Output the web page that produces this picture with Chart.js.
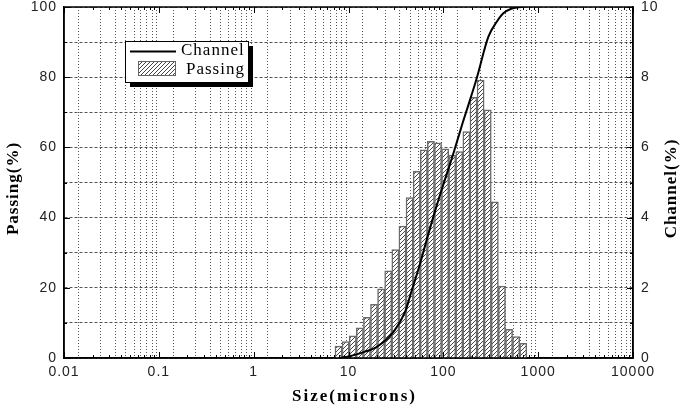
<!DOCTYPE html>
<html>
<head>
<meta charset="utf-8">
<script src="https://cdn.jsdelivr.net/npm/chart.js@4.4.1/dist/chart.umd.min.js"></script>
<style>
body { margin:0; background:#fff; }
#wrap { width:685px; height:409px; }
</style>
</head>
<body>
<div id="wrap"><canvas id="myChart" width="685" height="409"></canvas></div>
<script>
// data
var binSizes = [7.85, 9.33, 11.09, 13.18, 15.66, 18.58, 22.08, 26.24, 31.19, 37.07, 44.06, 52.36, 62.23, 73.96,
	87.90, 104.5, 124.2, 147.2, 175.0, 208.0, 247.2, 293.8, 349.1, 414.9, 493.2, 586.1, 696.6];
var channelValues = [0.34, 0.47, 0.63, 0.86, 1.16, 1.53, 1.97, 2.48, 3.09, 3.76, 4.57, 5.32, 5.93, 6.17,
	6.13, 5.96, 5.78, 5.88, 6.45, 7.43, 7.92, 7.07, 4.45, 2.05, 0.82, 0.61, 0.42];
var curveSizes = [8.1, 10, 15, 20, 30, 40, 45, 57, 67, 80, 101.6, 125, 160, 225, 298, 366, 429, 520, 617, 700];
var passingValues = [0, 0.4, 1.8, 3.2, 7.5, 13.5, 18, 27, 33.8, 41, 50, 57.5, 67, 79.7, 91.5, 95.8, 98.2, 99.5, 99.9, 100];
var decades = [0.01, 0.1, 1, 10, 100, 1000, 10000];
var decadeLabels = ["0.01", "0.1", "1", "10", "100", "1000", "10000"];
var minorSteps = [2, 3, 4, 5, 6, 7, 8, 9];

var xTicks = [];
decades.forEach(function(d, i){
	xTicks.push({value: d, major: true, label: decadeLabels[i]});
	if (i < decades.length - 1) {
		minorSteps.forEach(function(m){ xTicks.push({value: d * m, major: false, label: ''}); });
	}
});

// hatch
var pc = document.createElement('canvas');
pc.width = 4; pc.height = 4;
var p = pc.getContext('2d');
p.fillStyle = '#fff'; p.fillRect(0, 0, 4, 4);
p.strokeStyle = '#444'; p.lineWidth = 1;
p.beginPath();
p.moveTo(0, 4); p.lineTo(4, 0);
p.moveTo(-1, 1); p.lineTo(1, -1);
p.moveTo(3, 5); p.lineTo(5, 3);
p.stroke();
var ctx = document.getElementById('myChart').getContext('2d');
var hatch = ctx.createPattern(pc, 'repeat');

function noPad(s){ s.paddingTop = 0; s.paddingBottom = 0; }

var frame = {
	id: 'frame',
	beforeDraw: function(chart){
		chart.ctx.letterSpacing = '1px';
	},
	afterDatasetsDraw: function(chart){
		var c = chart.ctx, a = chart.chartArea;
		var sx = chart.scales.x, sy = chart.scales.y;
		c.save();
		c.strokeStyle = '#000'; c.lineWidth = 1.5;
		c.strokeRect(a.left, a.top, a.right - a.left, a.bottom - a.top);
		c.lineWidth = 1;
		c.beginPath();
		xTicks.forEach(function(t){
			var px = Math.round(sx.getPixelForValue(t.value)) + 0.5;
			var l = t.major ? 6 : 3;
			c.moveTo(px, a.bottom); c.lineTo(px, a.bottom - l);
			c.moveTo(px, a.top); c.lineTo(px, a.top + l);
		});
		for (var v = 0; v <= 100; v += 10) {
			var py = Math.round(sy.getPixelForValue(v)) + 0.5;
			var l2 = v % 20 === 0 ? 6 : 3;
			c.moveTo(a.left, py); c.lineTo(a.left + l2, py);
			c.moveTo(a.right, py); c.lineTo(a.right - l2, py);
		}
		c.stroke();
		c.fillStyle = '#000';
		c.textAlign = 'center'; c.textBaseline = 'middle';
		// bottom title
		c.font = 'bold 17px "Liberation Serif"';
		c.letterSpacing = '2px';
		c.fillText('Size(microns)', (a.left + a.right) / 2 + 6, 397);
		// side titles
		c.letterSpacing = '1px';
		var midY = (a.top + a.bottom) / 2 + 6;
		c.save();
		c.translate(14, midY);
		c.rotate(-Math.PI / 2);
		c.fillText('Passing(%)', 0, 0);
		c.restore();
		c.translate(672, midY);
		c.rotate(-Math.PI / 2);
		c.fillText('Channel(%)', 0, 0);
		c.restore();

		// legend
		c.save();
		var lx = 125, ly = 41, lw = 123, lh = 41;
		c.fillStyle = '#000';
		c.fillRect(lx + 5, ly + 5, lw, lh);
		c.fillStyle = '#fff';
		c.fillRect(lx, ly, lw, lh);
		c.strokeStyle = '#000'; c.lineWidth = 1;
		c.strokeRect(lx + 0.5, ly + 0.5, lw, lh);
		var ds = chart.data.datasets;
		c.lineWidth = 2;
		c.beginPath(); c.moveTo(130, 51.5); c.lineTo(176, 51.5); c.stroke();
		c.fillStyle = hatch; c.fillRect(138, 61, 37, 14);
		c.strokeStyle = '#666'; c.lineWidth = 1; c.strokeRect(138.5, 61.5, 37, 14);
		c.fillStyle = '#000';
		c.font = '17px "Liberation Serif"';
		c.textAlign = 'left'; c.textBaseline = 'middle';
		c.fillText(ds[0].label, 181, 51);
		c.fillText(ds[1].label, 186, 70);
		c.restore();
	}
};

var chart = new Chart(ctx, {
	type: 'bar',
	data: {
		datasets: [{
			type: 'line',
			label: 'Channel',
			data: curveSizes.map(function(s, i){ return {x: s, y: passingValues[i]}; }),
			borderColor: '#000',
			borderWidth: 2,
			pointRadius: 0,
			cubicInterpolationMode: 'monotone',
			yAxisID: 'y'
		}, {
			label: 'Passing',
			data: binSizes.map(function(s, i){ return {x: s, y: channelValues[i]}; }),
			backgroundColor: hatch,
			borderColor: '#6a6a6a',
			borderWidth: 1.5,
			barThickness: 'flex',
			barPercentage: 1,
			categoryPercentage: 1,
			yAxisID: 'y2'
		}]
	},
	options: {
		responsive: false,
		animation: false,
		layout: { padding: { top: 7 } },
		plugins: {
			legend: { display: false },
			tooltip: { enabled: false }
		},
		scales: {
			x: {
				type: 'logarithmic',
				min: 0.01, max: 10000,
				afterBuildTicks: function(s){ s.ticks = xTicks.map(function(t){ return {value: t.value, major: t.major}; }); },
				afterFit: function(s){ s.height = 51; },
				ticks: {
					autoSkip: false, maxRotation: 0, padding: 6,
					color: '#222', font: { family: 'Liberation Sans', size: 14 },
					callback: function(v, i){ return xTicks[i] ? xTicks[i].label : ''; }
				},
				grid: { color: '#555', lineWidth: 1, drawTicks: false },
				border: { dash: [1, 2], color: '#000', width: 1.5 }
			},
			y: {
				position: 'left',
				min: 0, max: 100,
				afterFit: function(s){ s.width = 64; noPad(s); },
				ticks: {
					stepSize: 10, padding: 7,
					color: '#222', font: { family: 'Liberation Sans', size: 14 },
					callback: function(v){ return v % 20 === 0 ? v : ''; }
				},
				grid: { color: '#555', lineWidth: 1, drawTicks: false },
				border: { dash: [3, 2], color: '#000', width: 1.5 }
			},
			y2: {
				position: 'right',
				min: 0, max: 10,
				afterFit: function(s){ s.width = 52; noPad(s); },
				ticks: {
					stepSize: 1, padding: 8,
					color: '#222', font: { family: 'Liberation Sans', size: 14 },
					callback: function(v){ return v % 2 === 0 ? v : ''; }
				},
				grid: { display: false, drawTicks: false },
				border: { color: '#000', width: 1.5 }
			}
		}
	},
	plugins: [frame]
});
</script>
</body>
</html>
